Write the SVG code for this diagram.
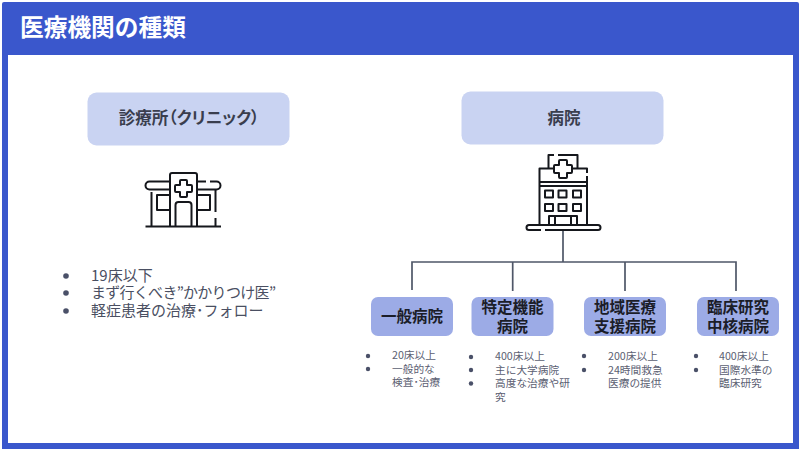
<svg xmlns="http://www.w3.org/2000/svg" width="800" height="450" viewBox="0 0 800 450">
<style>
text{font-family:"Noto Sans CJK JP","Noto Sans",sans-serif}
.t{font-weight:700;fill:#3a3e4e;text-anchor:middle}
.n{font-weight:700;fill:#1b1d28;text-anchor:middle;font-size:15.500px}
.b{font-size:10.700px;fill:#5b6072}
.l{font-size:15px;fill:#4a4f62}
.d{fill:#4a5068}
.ic{fill:none;stroke:#15171c;stroke-width:2;stroke-linejoin:round}
.c{fill:none;stroke:#4f5768;stroke-width:1.700}
.a{fill:#c9d3f2}
.m{fill:#9cabe6}
</style>
<rect x="0" y="0" width="800" height="450" fill="#fff"/>
<rect x="5" y="7" width="791" height="439" fill="#fff" stroke="#3a57cc" stroke-width="6"/>
<rect x="2" y="2" width="797" height="53" rx="2" fill="#3a57cc"/>
<g id="title"><text x="20" y="36" font-size="23.700" font-weight="700" fill="#fff">医療機関の種類</text></g>
<g id="clinic"><rect class="a" x="87.500" y="92.500" width="202" height="53" rx="9"/><text class="t" x="189" y="124" font-size="16.600" style="font-feature-settings:'palt'">診療所（クリニック）</text></g>
<g id="clinic-icon" class="ic">
<path d="M145.500 226.500H221M151.500 192V226.500M215.500 189V212M215.500 218V226.500M170 226.500V175a2 2 0 0 1 2-2h23a2 2 0 0 1 2 2v51.500"/>
<path d="M170 181.500H149.500a4 4 0 0 0 0 8h20.500M197 181.500h9M210 181.500h6.500a4 4 0 0 1 0 8h-19.500"/>
<path d="M170 195h-13v15h13M197 195h13v15h-13M175.500 226.500V205a3 3 0 0 1 3-3h10a3 3 0 0 1 3 3v21.500"/>
<path stroke-linejoin="round" d="M181 180h5a1 1 0 0 1 1 1v4h4a1 1 0 0 1 1 1v5a1 1 0 0 1-1 1h-4v4a1 1 0 0 1-1 1h-5a1 1 0 0 1-1-1v-4h-4a1 1 0 0 1-1-1v-5a1 1 0 0 1 1-1h4v-4a1 1 0 0 1 1-1z"/>
</g>
<g id="clinic-list">
<circle class="d" cx="66" cy="276" r="2.800"/><circle class="d" cx="66" cy="293" r="2.800"/><circle class="d" cx="66" cy="311" r="2.800"/>
<text class="l" x="91" y="281">19床以下</text>
<text class="l" x="91" y="298" textLength="185" lengthAdjust="spacing">まず行くべき”かかりつけ医”</text>
<text class="l" x="91" y="316">軽症患者の治療･フォロー</text>
</g>
<g id="hospital"><rect class="a" x="461.500" y="91.500" width="202" height="53" rx="9"/><text class="t" x="564" y="123.500" font-size="16.500">病院</text></g>
<g id="hospital-icon" class="ic">
<path d="M548.500 168V155H554M558 155H577.500V168M553 168.500H539.500V226M573 168.500H587V173M587 176V226M540 182H587M540 186H587"/>
<path stroke-linejoin="round" d="M560 160h6a1 1 0 0 1 1 1v4h4a1 1 0 0 1 1 1v6a1 1 0 0 1-1 1h-4v4a1 1 0 0 1-1 1h-6a1 1 0 0 1-1-1v-4h-4a1 1 0 0 1-1-1v-6a1 1 0 0 1 1-1h4v-4a1 1 0 0 1 1-1z"/>
<path d="M541 230H529a2.500 2.500 0 0 1 0-5h69a2.500 2.500 0 0 1 0 5H545"/>
<path d="M549 225V216H577V225M555 216V225M571 216V225"/>
<rect x="545" y="190.500" width="8" height="7"/><rect x="558.500" y="190.500" width="8" height="7"/><rect x="573" y="190.500" width="8" height="7"/>
<rect x="545" y="204" width="8" height="7"/><rect x="558.500" y="204" width="8" height="7"/><rect x="573" y="204" width="8" height="7"/>
</g>
<g id="connectors" class="c">
<path d="M563 231V262M412 290V262H736V291M512.700 262V291M625 262V291"/>
</g>
<g id="general"><rect class="m" x="371" y="297" width="82" height="39" rx="7"/><text class="n" x="412" y="322">一般病院</text></g>
<g id="special"><rect class="m" x="471.500" y="297" width="82" height="39" rx="7"/><text class="n" x="512.500" y="312.500">特定機能</text><text class="n" x="512.500" y="331.500">病院</text></g>
<g id="regional"><rect class="m" x="584" y="297" width="82" height="39" rx="7"/><text class="n" x="625" y="312.500">地域医療</text><text class="n" x="625" y="331.500">支援病院</text></g>
<g id="research"><rect class="m" x="697" y="297" width="82" height="39" rx="7"/><text class="n" x="738" y="312.500">臨床研究</text><text class="n" x="738" y="331.500">中核病院</text></g>
<g id="general-list">
<circle class="d" cx="368" cy="356" r="2.200"/><circle class="d" cx="368" cy="369" r="2.200"/>
<text class="b" x="392" y="359">20床以上</text><text class="b" x="392" y="373">一般的な</text><text class="b" x="392" y="386">検査･治療</text>
</g>
<g id="special-list">
<circle class="d" cx="471" cy="357" r="2.200"/><circle class="d" cx="471" cy="370" r="2.200"/><circle class="d" cx="471" cy="383.500" r="2.200"/>
<text class="b" x="495" y="360">400床以上</text><text class="b" x="495" y="374">主に大学病院</text><text class="b" x="495" y="387">高度な治療や研</text><text class="b" x="495" y="401">究</text>
</g>
<g id="regional-list">
<circle class="d" cx="584" cy="356" r="2.200"/><circle class="d" cx="584" cy="370" r="2.200"/>
<text class="b" x="608" y="360">200床以上</text><text class="b" x="608" y="374">24時間救急</text><text class="b" x="608" y="387">医療の提供</text>
</g>
<g id="research-list">
<circle class="d" cx="696" cy="356" r="2.200"/><circle class="d" cx="696" cy="370" r="2.200"/>
<text class="b" x="719" y="360">400床以上</text><text class="b" x="719" y="374">国際水準の</text><text class="b" x="719" y="387">臨床研究</text>
</g>
</svg>
